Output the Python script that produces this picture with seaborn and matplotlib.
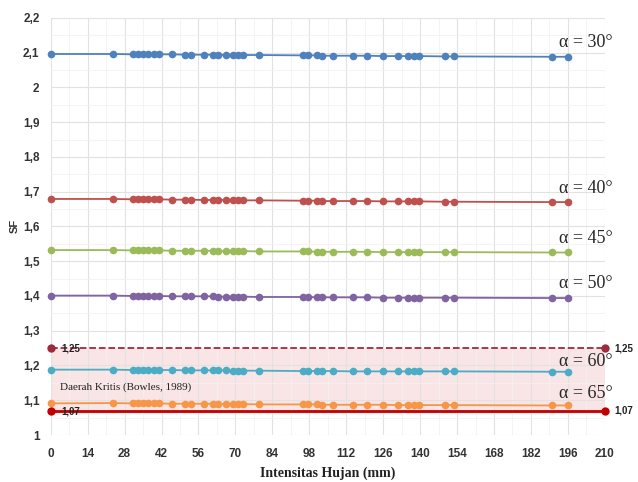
import numpy as np
import pandas as pd
import matplotlib
matplotlib.use("Agg")
import matplotlib.pyplot as plt
from matplotlib.ticker import FuncFormatter, MultipleLocator
import seaborn as sns

# rainfall intensity (mm)
intensity = [0, 23.5, 31, 33, 35, 37, 39, 41, 46, 51, 53, 58, 61.5, 63.5, 66.5, 69, 71, 73, 79,
             95.5, 97.5, 101, 103, 107, 114.5, 120, 126, 131.5, 135.5, 137.5, 139.5, 149.5, 153, 190, 196]

sf_30 = [2.096, 2.096, 2.095, 2.095, 2.095, 2.095, 2.095, 2.095, 2.095, 2.094, 2.094, 2.094, 2.094, 2.094,
         2.093, 2.093, 2.093, 2.093, 2.093, 2.092, 2.092, 2.092, 2.091, 2.091, 2.091, 2.091, 2.090, 2.090,
         2.090, 2.090, 2.090, 2.089, 2.089, 2.088, 2.088]
sf_40 = [1.679, 1.679, 1.678, 1.678, 1.678, 1.678, 1.678, 1.678, 1.677, 1.677, 1.677, 1.676, 1.676, 1.676,
         1.676, 1.676, 1.675, 1.675, 1.675, 1.674, 1.674, 1.674, 1.673, 1.673, 1.673, 1.673, 1.672, 1.672,
         1.672, 1.672, 1.672, 1.671, 1.671, 1.670, 1.670]
sf_45 = [1.532, 1.532, 1.531, 1.531, 1.531, 1.531, 1.531, 1.531, 1.530, 1.530, 1.530, 1.530, 1.530, 1.529,
         1.529, 1.529, 1.529, 1.529, 1.528, 1.528, 1.528, 1.527, 1.527, 1.527, 1.527, 1.527, 1.526, 1.526,
         1.526, 1.526, 1.526, 1.526, 1.526, 1.525, 1.525]
sf_50 = [1.401, 1.401, 1.400, 1.400, 1.400, 1.400, 1.400, 1.400, 1.399, 1.399, 1.399, 1.399, 1.399, 1.398,
         1.398, 1.398, 1.398, 1.398, 1.397, 1.397, 1.397, 1.396, 1.396, 1.396, 1.396, 1.396, 1.395, 1.395,
         1.395, 1.395, 1.395, 1.395, 1.395, 1.394, 1.394]
sf_60 = [1.188, 1.188, 1.187, 1.187, 1.187, 1.187, 1.187, 1.187, 1.187, 1.186, 1.186, 1.186, 1.186, 1.186,
         1.186, 1.185, 1.185, 1.185, 1.185, 1.184, 1.184, 1.184, 1.184, 1.184, 1.183, 1.183, 1.183, 1.183,
         1.183, 1.183, 1.183, 1.183, 1.183, 1.182, 1.182]
sf_65 = [1.091, 1.092, 1.091, 1.091, 1.091, 1.091, 1.091, 1.091, 1.090, 1.090, 1.090, 1.090, 1.090, 1.089,
         1.089, 1.089, 1.089, 1.089, 1.088, 1.088, 1.088, 1.088, 1.087, 1.087, 1.087, 1.087, 1.087, 1.086,
         1.086, 1.086, 1.086, 1.086, 1.086, 1.085, 1.085]

angles = ["30", "40", "45", "50", "60", "65"]
series = [sf_30, sf_40, sf_45, sf_50, sf_60, sf_65]
colors = ["#4f81bd", "#c0504d", "#9bbb59", "#8064a2", "#4bacc6", "#f79646"]

# critical limits (Bowles, 1989)
limit_x = [0, 210]
limit_upper = 1.25
limit_lower = 1.07

rows = []
for a, vals in zip(angles, series):
    for xv, yv in zip(intensity, vals):
        rows.append({"Intensitas": xv, "SF": yv, "alpha": a})
df = pd.DataFrame(rows)

sns.set_theme(style="white")
plt.rcParams["font.family"] = ["Liberation Sans", "DejaVu Sans"]

fig = plt.figure(figsize=(6.38, 4.82), dpi=100)
ax = fig.add_axes([0.0795, 0.0975, 0.8685, 0.8655])

ax.axhspan(limit_lower - 0.01, limit_upper, color="#f6d5d5", alpha=0.6, zorder=0, lw=0)

sns.lineplot(data=df, x="Intensitas", y="SF", hue="alpha", palette=colors, marker="o",
             markersize=5.5, markeredgewidth=0, linewidth=1.3, legend=False, ax=ax, zorder=3,
             clip_on=False)

sns.lineplot(x=limit_x, y=[limit_upper] * 2, color="#9e2a3c", linestyle="--", linewidth=1.3,
             marker="o", markersize=6, markeredgewidth=0, ax=ax, zorder=4, clip_on=False)
sns.lineplot(x=limit_x, y=[limit_lower] * 2, color="#c00000", linewidth=2.0,
             marker="o", markersize=6, markeredgewidth=0, ax=ax, zorder=4, clip_on=False)

# labels on the lines
label_y = [2.128, 1.710, 1.566, 1.437, 1.211, 1.120]
for a, ly in zip(angles, label_y):
    ax.text(192.5, ly, "\u03b1 = " + a + "\u00b0", fontsize=13, family="Liberation Serif",
            va="center", ha="left", zorder=6)

for v, s in [(limit_upper, "1,25"), (limit_lower, "1,07")]:
    ax.text(4, v - 0.002, s, fontsize=7, fontweight="bold", color="#222222", va="center", ha="left", zorder=6)
    ax.text(213.5, v, s, fontsize=7, fontweight="bold", color="#222222", va="center", ha="left",
            clip_on=False, zorder=6)

ax.text(3.5, 1.138, "Daerah Kritis (Bowles, 1989)", fontsize=8, family="Liberation Serif",
        color="#222222", va="center", ha="left", zorder=6)

ax.set_xlim(0, 210)
ax.set_ylim(1, 2.2)
ax.xaxis.set_major_locator(MultipleLocator(14))
ax.yaxis.set_major_locator(MultipleLocator(0.1))
ax.xaxis.set_minor_locator(MultipleLocator(7))
ax.yaxis.set_minor_locator(MultipleLocator(0.05))
ax.yaxis.set_major_formatter(FuncFormatter(lambda v, p: ("%g" % round(v, 2)).replace(".", ",")))

ax.grid(which="major", color="#e2e2e2", linewidth=0.8)
ax.grid(which="minor", color="#f2f2f2", linewidth=0.6)
ax.set_axisbelow(True)
for sp in ax.spines.values():
    sp.set_visible(False)

ax.tick_params(axis="x", which="both", length=0, labelsize=8.5, colors="#333333", pad=9)
ax.tick_params(axis="y", which="both", length=0, labelsize=8.5, colors="#333333", pad=8)
for lab in ax.get_xticklabels() + ax.get_yticklabels():
    lab.set_fontweight("bold")

ax.set_xlabel("Intensitas Hujan (mm)", fontsize=10, fontweight="bold", family="Liberation Serif",
              color="#222222", labelpad=5)
ax.set_ylabel("SF", fontsize=8, fontweight="bold", color="#333333", labelpad=2)

fig.savefig("out.png", dpi=100)
